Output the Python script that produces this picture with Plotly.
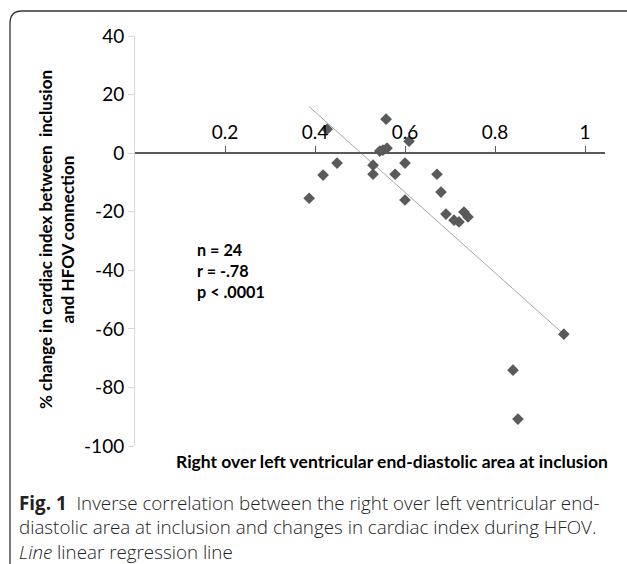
import numpy as np
import plotly.graph_objects as go

# Data
rv_lv_ratio = [0.558, 0.427, 0.551, 0.560, 0.544, 0.609, 0.449, 0.418, 0.529, 0.529,
               0.578, 0.600, 0.387, 0.600, 0.671, 0.680, 0.691, 0.709, 0.720, 0.731,
               0.740, 0.953, 0.840, 0.851]
ci_change = [11.6, 8.2, 1.0, 1.7, 0.7, 4.1, -3.4, -7.5, -4.1, -7.2,
             -7.2, -3.4, -15.4, -16.0, -7.2, -13.3, -20.8, -22.9, -23.5, -20.1,
             -21.8, -61.8, -74.1, -90.8]
x_tick_vals = [0.2, 0.4, 0.6, 0.8, 1.0]
x_tick_text = ["0.2", "0.4", "0.6", "0.8", "1"]
y_tick_vals = [40, 20, 0, -20, -40, -60, -80, -100]
y_tick_text = ["40", "20", "0", "-20", "-40", "-60", "-80", "-100"]

W, H = 627, 564
def px(x):
    return x / W
def py(y):
    return 1 - y / H

# regression line from data
slope, intercept = np.polyfit(rv_lv_ratio, ci_change, 1)
x_line = [min(rv_lv_ratio), max(rv_lv_ratio)]
y_line = [slope * v + intercept for v in x_line]

fig = go.Figure()
fig.add_trace(go.Scatter(x=x_line, y=y_line, mode="lines",
                         line=dict(color="#a6a6a6", width=1), hoverinfo="skip"))
fig.add_trace(go.Scatter(x=rv_lv_ratio, y=ci_change, mode="markers",
                         marker=dict(symbol="diamond", size=9, color="#5a5a5a")))

y_top_px, y_bot_px = 36, 446
y0_px = y_top_px + (y_bot_px - y_top_px) * 40 / 140

fig.update_layout(
    template="none",
    width=W, height=H, autosize=False,
    margin=dict(l=0, r=0, t=0, b=0, pad=0),
    paper_bgcolor="white", plot_bgcolor="white",
    showlegend=False,
    font=dict(family="Lato", color="black"),
    xaxis=dict(domain=[px(135), px(605)], range=[0, 470 / 450],
               anchor="free", position=py(y0_px), side="top", automargin=False,
               showline=True, linecolor="#595959", linewidth=1.5,
               ticks="outside", ticklen=6, tickcolor="#595959", tickwidth=1.2,
               tickvals=x_tick_vals, ticktext=x_tick_text,
               tickfont=dict(size=19, family="Lato", color="black"),
               showgrid=False, zeroline=False),
    yaxis=dict(domain=[py(y_bot_px), py(y_top_px)], range=[-100, 40], automargin=False,
               showline=True, linecolor="#d9d9d9", linewidth=1,
               ticks="outside", ticklen=6, tickcolor="#d9d9d9",
               tickvals=y_tick_vals, ticktext=y_tick_text,
               tickfont=dict(size=19, family="Lato", color="black"),
               showgrid=False, zeroline=False),
)

# y-axis title
fig.add_annotation(xref="paper", yref="paper", x=px(57), y=py(240),
                   text="<b>% change in cardiac index between  inclusion<br>and HFOV connection</b>",
                   textangle=-90, showarrow=False, font=dict(size=17, family="Lato"),
                   xanchor="center", yanchor="middle")
# x-axis title
fig.add_annotation(xref="paper", yref="paper", x=px(392), y=py(461),
                   text="<b>Right over left ventricular end-diastolic area at inclusion</b>",
                   showarrow=False, font=dict(size=17.5, family="Lato"),
                   xanchor="center", yanchor="middle")
# stats
fig.add_annotation(xref="paper", yref="paper", x=px(195), y=py(270),
                   text="<b>n = 24<br>r = -.78<br>p < .0001</b>",
                   showarrow=False, align="left", font=dict(size=16.2, family="Lato"),
                   xanchor="left", yanchor="middle")
# caption
fig.add_annotation(xref="paper", yref="paper", x=px(17), y=py(527),
                   text=("<b>Fig. 1</b>  Inverse correlation between the right over left ventricular end-<br>"
                         "diastolic area at inclusion and changes in cardiac index during HFOV.<br>"
                         "<i>Line</i> linear regression line"),
                   showarrow=False, align="left",
                   font=dict(size=18.8, family="Open Sans", color="#222222", weight=300),
                   xanchor="left", yanchor="middle")

# rounded border
r = 12
path = (f"M {px(W + 5)} {py(11)} L {px(10 + r)} {py(11)} "
        f"Q {px(10)} {py(11)} {px(10)} {py(11 + r)} "
        f"L {px(10)} {py(H + 10)}")
fig.add_shape(type="path", path=path, xref="paper", yref="paper",
              line=dict(color="#333333", width=1.3))

fig.write_html("out.html",
               config={"displayModeBar": False, "responsive": False},
               post_script="document.body.style.margin='0';")
